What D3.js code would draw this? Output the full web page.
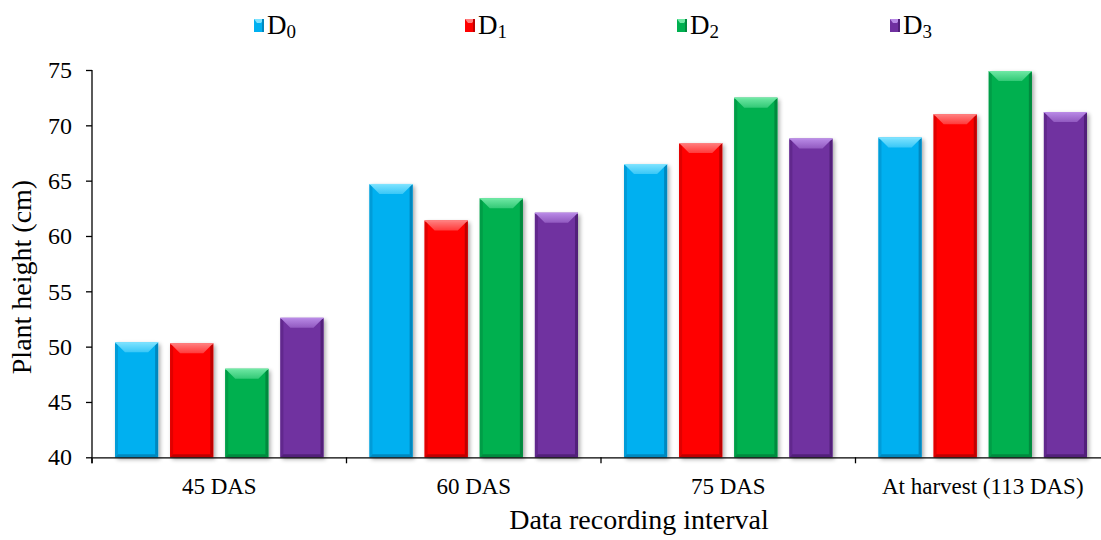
<!DOCTYPE html>
<html>
<head>
<meta charset="utf-8">
<script src="https://cdn.jsdelivr.net/npm/d3@7/dist/d3.min.js"></script>
<style>
  html, body { margin: 0; padding: 0; background: #fff; }
  svg { display: block; }
  text { font-family: "Liberation Serif", "Times New Roman", serif; fill: #000; }
</style>
</head>
<body>
<svg id="chart" width="1101" height="540"></svg>
<script>
// Plant height (cm) at each recording interval, per treatment
const categories = ["45 DAS", "60 DAS", "75 DAS", "At harvest (113 DAS)"];
const seriesNames = ["D0", "D1", "D2", "D3"];
const D0 = [50.4, 64.7, 66.5, 68.9];
const D1 = [50.3, 61.4, 68.4, 71.0];
const D2 = [48.0, 63.4, 72.5, 74.9];
const D3 = [52.6, 62.1, 68.8, 71.2];
const yTicks = [40, 45, 50, 55, 60, 65, 70, 75];

const seriesValues = [D0, D1, D2, D3];
const baseColors = ["#00B0F0", "#FF0000", "#00B050", "#7030A0"];
const lightColors = ["#7FE3FF", "#FF8080", "#6FE8A4", "#B98AE6"];
const darkColors = ["#0088BF", "#C00000", "#008A3E", "#52207A"];

const svg = d3.select("#chart");

const x0 = d3.scaleBand().domain(categories).range([92, 1110]).padding(0);
const x1 = d3.scaleBand().domain(seriesNames).range([23, 231.5]).paddingInner(0.218).paddingOuter(0);
const y = d3.scaleLinear().domain([40, 75]).range([457.3, 70]);

const defs = svg.append("defs");
const shadow = defs.append("filter").attr("id", "shadow")
  .attr("x", "-20%").attr("y", "-10%").attr("width", "150%").attr("height", "130%");
shadow.append("feGaussianBlur").attr("in", "SourceAlpha").attr("stdDeviation", 2);
shadow.append("feOffset").attr("dx", 2).attr("dy", 2).attr("result", "off");
shadow.append("feComponentTransfer").append("feFuncA").attr("type", "linear").attr("slope", 0.35);
const merge = shadow.append("feMerge");
merge.append("feMergeNode");
merge.append("feMergeNode").attr("in", "SourceGraphic");

// gradient for the top bevel of each colour
seriesNames.forEach((s, i) => {
  const g = defs.append("linearGradient").attr("id", "top" + i)
    .attr("x1", 0).attr("y1", 0).attr("x2", 0).attr("y2", 1);
  g.append("stop").attr("offset", "0%").attr("stop-color", lightColors[i]);
  g.append("stop").attr("offset", "100%").attr("stop-color", d3.interpolateRgb(lightColors[i], baseColors[i])(0.55));
});

// bars
const rows = [];
categories.forEach((c, ci) => {
  seriesNames.forEach((s, si) => {
    rows.push({ cat: c, series: s, si: si, value: seriesValues[si][ci] });
  });
});

const bars = svg.append("g").selectAll("g.bar").data(rows).join("g")
  .attr("class", "bar")
  .attr("transform", d => `translate(${x0(d.cat) + x1(d.series)},0)`);

bars.each(function (d) {
  const g = d3.select(this);
  const w = x1.bandwidth();
  const top = y(d.value);
  const bottom = y(40);
  const h = bottom - top;
  const b = Math.min(10, h / 2);
  const s = 3;
  const i = d.si;
  g.append("rect").attr("x", 0).attr("y", top).attr("width", w).attr("height", h)
    .attr("fill", baseColors[i]).attr("filter", "url(#shadow)");
  // left edge
  g.append("polygon").attr("points", [[0, top], [s, top + s], [s, bottom - s], [0, bottom]].join(" "))
    .attr("fill", d3.interpolateRgb(baseColors[i], darkColors[i])(0.5));
  // right edge
  g.append("polygon").attr("points", [[w, top], [w - s, top + s], [w - s, bottom - s], [w, bottom]].join(" "))
    .attr("fill", darkColors[i]);
  // bottom edge
  g.append("polygon").attr("points", [[0, bottom], [s, bottom - s], [w - s, bottom - s], [w, bottom]].join(" "))
    .attr("fill", darkColors[i]);
  // top bevel
  g.append("polygon").attr("points", [[0, top], [w, top], [w - b, top + b], [b, top + b]].join(" "))
    .attr("fill", `url(#top${i})`);
  g.append("line").attr("x1", 0).attr("x2", w).attr("y1", top + 0.5).attr("y2", top + 0.5)
    .attr("stroke", lightColors[i]).attr("stroke-width", 1);
});

// y axis
const yAxis = svg.append("g").attr("transform", "translate(92,0)")
  .call(d3.axisLeft(y).tickValues(yTicks).tickSize(6).tickSizeOuter(0).tickPadding(14));
yAxis.select(".domain").remove();
yAxis.append("line").attr("x1", 0).attr("x2", 0).attr("y1", y(75)).attr("y2", y(40) + 6)
  .attr("stroke", "#000").attr("stroke-width", 1.3);
yAxis.selectAll(".tick line").attr("stroke", "#000").attr("stroke-width", 1.3);
yAxis.selectAll(".tick text").attr("font-size", 24).attr("font-family", "Liberation Serif").attr("fill", "#000");

// x axis
const xAxis = svg.append("g").attr("transform", `translate(0,${y(40)})`)
  .call(d3.axisBottom(x0).tickSize(0).tickPadding(20));
xAxis.select(".domain").attr("stroke", "#000").attr("stroke-width", 1.3);
xAxis.selectAll(".tick text").attr("font-size", 23).attr("font-family", "Liberation Serif").attr("fill", "#000");
xAxis.selectAll("line.sep").data(categories).join("line").attr("class", "sep")
  .attr("x1", d => x0(d)).attr("x2", d => x0(d)).attr("y1", 0).attr("y2", 6)
  .attr("stroke", "#000").attr("stroke-width", 1.3);

// axis titles
svg.append("text").attr("x", 639).attr("y", 529).attr("text-anchor", "middle")
  .attr("font-size", 28).text("Data recording interval");
svg.append("text").attr("transform", "translate(31,277) rotate(-90)").attr("text-anchor", "middle")
  .attr("font-size", 28).text("Plant height (cm)");

// legend
const legendX = [254, 465, 677, 890];
const legend = svg.append("g").selectAll("g").data(seriesNames).join("g")
  .attr("transform", (d, i) => `translate(${legendX[i]},0)`);
legend.append("rect").attr("x", 0).attr("y", 19).attr("width", 10).attr("height", 13)
  .attr("fill", (d, i) => baseColors[i]);
legend.append("polygon").attr("points", "0,19 10,19 7,23 3,23")
  .attr("fill", (d, i) => lightColors[i]);
legend.append("rect").attr("x", 8).attr("y", 19).attr("width", 2).attr("height", 13)
  .attr("fill", (d, i) => darkColors[i]);
const lt = legend.append("text").attr("x", 13).attr("y", 34).attr("font-size", 27);
lt.append("tspan").text(d => d.charAt(0));
lt.append("tspan").attr("font-size", 19).attr("dy", 4).text(d => d.slice(1));
</script>
</body>
</html>
